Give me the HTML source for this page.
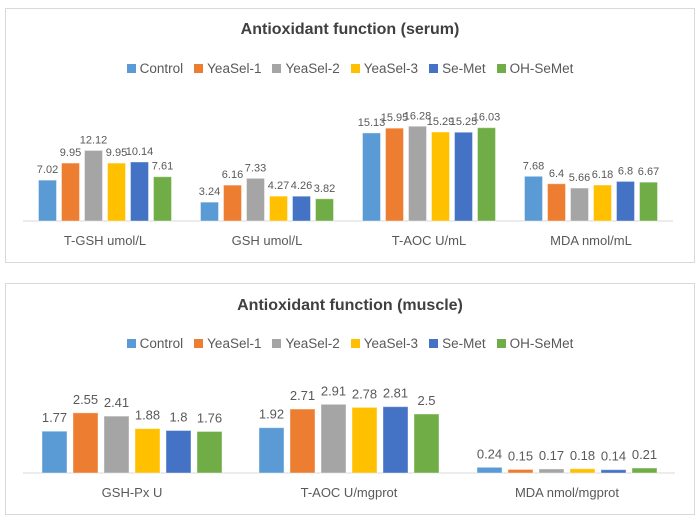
<!DOCTYPE html>
<html><head><meta charset="utf-8"><style>
body{margin:0;background:#fff;width:700px;height:520px;position:relative;font-family:"Liberation Sans","DejaVu Sans",sans-serif;overflow:hidden}
.frame{position:absolute;border:1px solid #d9d9d9;box-sizing:border-box}
.title{position:absolute;left:0;right:0;text-align:center;font-weight:bold;font-size:16px;color:#404040}
.legend{position:absolute;left:0;right:0;display:flex;justify-content:center;font-size:13.5px;color:#595959;gap:11px}
.legend span{display:flex;align-items:center}
.legend i{display:inline-block;width:9px;height:9px;margin-right:4px}
svg{position:absolute;left:0;top:0}
</style></head><body>
<div class="frame" style="left:5px;top:8px;width:690px;height:255px">
<div class="title" style="top:12px">Antioxidant function (serum)</div>
<div class="legend" style="top:52px">
<span><i style="background:#5b9bd5"></i>Control</span><span><i style="background:#ed7d31"></i>YeaSel-1</span><span><i style="background:#a5a5a5"></i>YeaSel-2</span><span><i style="background:#ffc000"></i>YeaSel-3</span><span><i style="background:#4472c4"></i>Se-Met</span><span><i style="background:#70ad47"></i>OH-SeMet</span>
</div></div>
<div class="frame" style="left:5px;top:283px;width:690px;height:232px">
<div class="title" style="top:13px">Antioxidant function (muscle)</div>
<div class="legend" style="top:52px">
<span><i style="background:#5b9bd5"></i>Control</span><span><i style="background:#ed7d31"></i>YeaSel-1</span><span><i style="background:#a5a5a5"></i>YeaSel-2</span><span><i style="background:#ffc000"></i>YeaSel-3</span><span><i style="background:#4472c4"></i>Se-Met</span><span><i style="background:#70ad47"></i>OH-SeMet</span>
</div></div>
<svg id="s" width="700" height="520" xmlns="http://www.w3.org/2000/svg"></svg>
<script>
var cols=["#5b9bd5","#ed7d31","#a5a5a5","#ffc000","#4472c4","#70ad47"];
var s="";
function chart(cfg){
 s+='<line x1="'+cfg.x1+'" x2="'+cfg.x2+'" y1="'+cfg.base+'" y2="'+cfg.base+'" stroke="#d9d9d9" stroke-width="1"/>';
 cfg.groups.forEach(function(g,i){
  var c=cfg.centers[i];var left=c-(5*cfg.step+cfg.w)/2;
  g.v.forEach(function(v,j){
   var h=v*cfg.scale;var x=left+j*cfg.step;var y=cfg.base-h;
   s+='<rect x="'+x+'" y="'+y+'" width="'+cfg.w+'" height="'+h+'" fill="'+cols[j]+'" stroke="#fff" stroke-opacity="0.4" stroke-width="1"/>';
   s+='<text x="'+(x+cfg.w/2)+'" y="'+(y-cfg.lo)+'" font-size="'+cfg.fs+'" fill="#595959" text-anchor="middle">'+v+'</text>';
  });
  s+='<text x="'+c+'" y="'+cfg.ly+'" font-size="13" fill="#595959" text-anchor="middle">'+g.n+'</text>';
 });
}
chart({x1:23,x2:673,base:221,scale:5.82,w:18,step:23,fs:11,lo:7,ly:245,centers:[105,267,429,591],
 groups:[{n:"T-GSH umol/L",v:[7.02,9.95,12.12,9.95,10.14,7.61]},{n:"GSH umol/L",v:[3.24,6.16,7.33,4.27,4.26,3.82]},{n:"T-AOC U/mL",v:[15.13,15.95,16.28,15.29,15.25,16.03]},{n:"MDA nmol/mL",v:[7.68,6.4,5.66,6.18,6.8,6.67]}]});
chart({x1:23,x2:675,base:473,scale:23.6,w:25,step:31,fs:13,lo:9,ly:497,centers:[132,349,567],
 groups:[{n:"GSH-Px U",v:[1.77,2.55,2.41,1.88,1.8,1.76]},{n:"T-AOC U/mgprot",v:[1.92,2.71,2.91,2.78,2.81,2.5]},{n:"MDA nmol/mgprot",v:[0.24,0.15,0.17,0.18,0.14,0.21]}]});
document.getElementById("s").innerHTML=s;
</script>
</body></html>
